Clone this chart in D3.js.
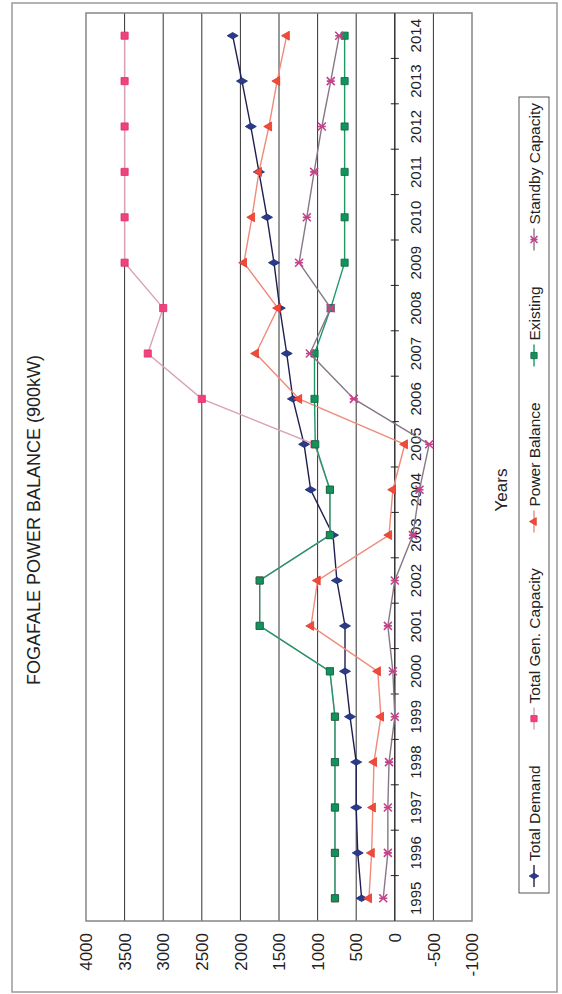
<!DOCTYPE html>
<html><head><meta charset="utf-8">
<script src="https://cdn.jsdelivr.net/npm/d3@7"></script>
<style>html,body{margin:0;padding:0;background:#fff;}svg{display:block;font-family:"Liberation Sans",Arial,sans-serif;}</style>
</head><body>
<script>
// ---- data ----
const years = ["1995","1996","1997","1998","1999","2000","2001","2002","2003","2004","2005","2006","2007","2008","2009","2010","2011","2012","2013","2014"];
const totalDemand   = [430,480,500,500,580,645,645,750,800,1090,1175,1320,1400,1490,1565,1655,1760,1865,1980,2100];
const totalGenCap   = [775,775,775,775,775,840,1750,1750,840,840,1040,2500,3200,3000,3500,3500,3500,3500,3500,3500];
const powerBalance  = [335,300,285,270,180,220,1085,1000,75,25,-130,1240,1800,1515,1955,1850,1760,1630,1525,1400];
const existing      = [775,775,775,775,775,840,1750,1750,840,840,1030,1040,1040,830,650,650,650,650,650,650];
const standby       = [150,90,90,75,0,25,90,0,-235,-320,-445,530,1100,830,1240,1140,1045,945,830,720];
const valueTicks = [-1000,-500,0,500,1000,1500,2000,2500,3000,3500,4000];
const seriesNames = ["Total Demand","Total Gen. Capacity","Power Balance","Existing","Standby Capacity"];
const titleText = "FOGAFALE POWER BALANCE (900kW)";
const axisTitle = "Years";

const series = [
  {name:seriesNames[0], values:totalDemand,  line:"#1e1e52", fill:"#2b3b8c", stroke:"#1b2a6e", sym:"diamond"},
  {name:seriesNames[1], values:totalGenCap,  line:"#d9a3b3", fill:"#f0427f", stroke:"#e0306c", sym:"square"},
  {name:seriesNames[2], values:powerBalance, line:"#f08a7a", fill:"#f04a3a", stroke:"#e03a2a", sym:"triangle"},
  {name:seriesNames[3], values:existing,     line:"#1f9868", fill:"#12935c", stroke:"#0a6a40", sym:"square"},
  {name:seriesNames[4], values:standby,      line:"#867886", fill:"none",    stroke:"#c8408a", sym:"star"}
];

const PW = 562, PH = 994;
const svg = d3.select("body").append("svg").attr("width",PW).attr("height",PH);
// rotated frame: u along page bottom->top, v along page left->right
const g = svg.append("g").attr("transform",`translate(0,${PH}) rotate(-90)`);

// chart frame
g.append("rect").attr("x",2).attr("y",12).attr("width",989).attr("height",545)
  .attr("fill","none").attr("stroke","#9a9a9a").attr("stroke-width",1.5);

const x = d3.scaleBand().domain(years).range([73,981]).padding(0);
const y = d3.scaleLinear().domain([-1000,4000]).range([472,86]);
const bw = x.bandwidth();

// gridlines
g.append("g").selectAll("line").data(valueTicks.filter(t=>t>-1000 && t<4000)).join("line")
  .attr("x1",73).attr("x2",981).attr("y1",d=>y(d)).attr("y2",d=>y(d))
  .attr("stroke","#333").attr("stroke-width",1);

// plot border
g.append("rect").attr("x",73).attr("y",86).attr("width",908).attr("height",386)
  .attr("fill","none").attr("stroke","#858585").attr("stroke-width",1.5);

// category axis at 0
const y0 = y(0);
g.append("line").attr("x1",73).attr("x2",981).attr("y1",y0).attr("y2",y0).attr("stroke","#222").attr("stroke-width",1);
g.append("g").selectAll("line").data(years.slice(1)).join("line")
  .attr("x1",d=>x(d)).attr("x2",d=>x(d)).attr("y1",y0-4).attr("y2",y0+4)
  .attr("stroke","#222").attr("stroke-width",1);
g.append("g").selectAll("text").data(years).join("text")
  .attr("x",d=>x(d)+bw/2).attr("y",y0+26).attr("text-anchor","middle")
  .attr("font-size",15).attr("fill","#222").text(d=>d);

// value labels
g.append("g").selectAll("text").data(valueTicks).join("text")
  .attr("x",61).attr("y",d=>y(d)).attr("dy","0.36em").attr("text-anchor","end")
  .attr("font-size",17).attr("fill","#222").text(d=>d);

// title & axis title
g.append("text").attr("x",PH-520).attr("y",40).attr("text-anchor","middle")
  .attr("font-size",18).attr("fill","#222").text(titleText);
g.append("text").attr("x",PH-490).attr("y",507).attr("text-anchor","middle")
  .attr("font-size",17).attr("fill","#222").text(axisTitle);

function marker(sel, s, size){
  if(s.sym==="star"){
    const r=size/2;
    sel.append("path").attr("d",`M${-r},${-r}L${r},${r}M${-r},${r}L${r},${-r}M0,${-r}L0,${r}`)
      .attr("stroke",s.stroke).attr("stroke-width",1.6).attr("fill","none");
  } else {
    const t = s.sym==="diamond"?d3.symbolDiamond:s.sym==="square"?d3.symbolSquare:d3.symbolTriangle;
    const area = s.sym==="diamond"?size*size*0.55:s.sym==="square"?size*size*0.8:size*size*0.55;
    sel.append("path").attr("d",d3.symbol(t,area)()).attr("fill",s.fill).attr("stroke",s.stroke).attr("stroke-width",0.8);
  }
}

const line = d3.line().x((d,i)=>x(years[i])+bw/2).y(d=>y(d));
series.forEach(s=>{
  const sg = g.append("g");
  sg.append("path").attr("d",line(s.values)).attr("fill","none").attr("stroke",s.line).attr("stroke-width",1.4);
  s.values.forEach((v,i)=>{
    const m = sg.append("g").attr("transform",`translate(${x(years[i])+bw/2},${y(v)})`);
    marker(m,s,8);
  });
});

// legend
const lg = g.append("g");
const L0 = PH-893, L1 = PH-97, LV0 = 519, LV1 = 549, LVc = (LV0+LV1)/2;
lg.append("rect").attr("x",L0).attr("y",LV0).attr("width",L1-L0).attr("height",LV1-LV0)
  .attr("fill","#fff").attr("stroke","#555").attr("stroke-width",1);
const symW = 22, symGap = 4;
const items = series.map(s=>{
  const t = lg.append("text").attr("y",LVc).attr("dy","0.36em").attr("font-size",15.5).attr("fill","#222").text(s.name);
  return {s,t,w:t.node().getComputedTextLength()};
});
const contentW = d3.sum(items,d=>symW+symGap+d.w);
const pad = 6;
const gap = ((L1-L0) - 2*pad - contentW)/(items.length-1);
let cu = L0+pad;
items.forEach(it=>{
  lg.append("line").attr("x1",cu).attr("x2",cu+symW).attr("y1",LVc).attr("y2",LVc).attr("stroke",it.s.line).attr("stroke-width",1.4);
  const m = lg.append("g").attr("transform",`translate(${cu+symW/2},${LVc})`);
  marker(m,it.s,7);
  it.t.attr("x",cu+symW+symGap);
  cu += symW+symGap+it.w+gap;
});
</script>
</body></html>
